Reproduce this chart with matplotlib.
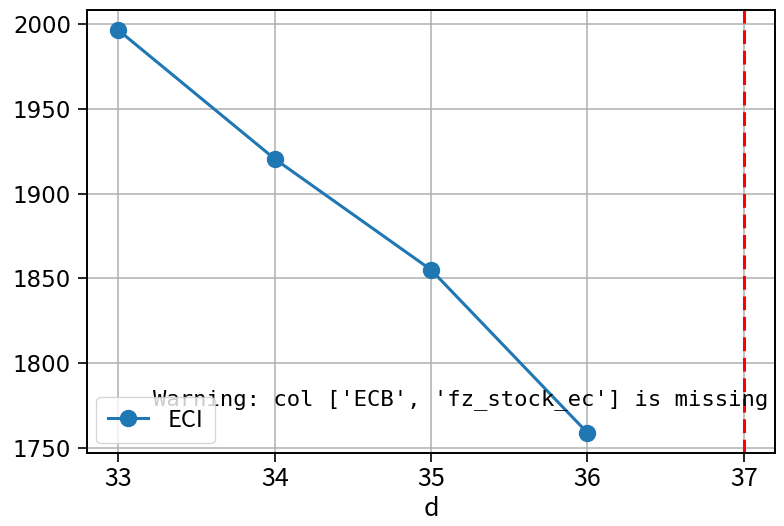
import matplotlib
matplotlib.use("Agg")
import matplotlib.pyplot as plt

d = [33, 34, 35, 36]
eci = [1996.5, 1920.5, 1855.0, 1758.8]
cutoff = 37
warn_msg = "Warning: col ['ECB', 'fz_stock_ec'] is missing"

cjk = ["Noto Sans CJK SC", "DejaVu Sans"]

fig = plt.figure(figsize=[7.84, 5.26], dpi=100)
ax = fig.add_axes([0.111, 0.139, 0.8776, 0.842])

ax.plot(d, eci, marker="o", color="#1f77b4", linewidth=2.2, markersize=11.5, label="ECI")
ax.axvline(cutoff, color="red", linestyle="--", linewidth=2.2, dashes=(4.5, 2.2))

ax.grid(True, color="#b0b0b0", linewidth=1.1)
ax.set_axisbelow(True)
for s in ax.spines.values():
    s.set_linewidth(1.4)
ax.set_xticks([33, 34, 35, 36, 37])
ax.tick_params(axis="both", length=6.5, width=1.2, pad=5)
ax.tick_params(axis="x", labelsize=18, labelfontfamily="Noto Sans CJK SC", pad=3)
ax.tick_params(axis="y", labelsize=16.5, labelfontfamily="DejaVu Sans")

ax.set_xlabel("d", fontsize=18, family=cjk, labelpad=3)

# warning sits under the legend, as in the original
ax.text(0.99, 0.12, warn_msg, transform=ax.transAxes, ha="right", va="center",
        fontsize=16, family="DejaVu Sans Mono")

ax.legend(loc="lower left", prop={"family": cjk, "size": 17}, borderaxespad=0.4,
          handlelength=1.7, handletextpad=0.8, borderpad=0.5)

fig.savefig("out.png", dpi=100)
